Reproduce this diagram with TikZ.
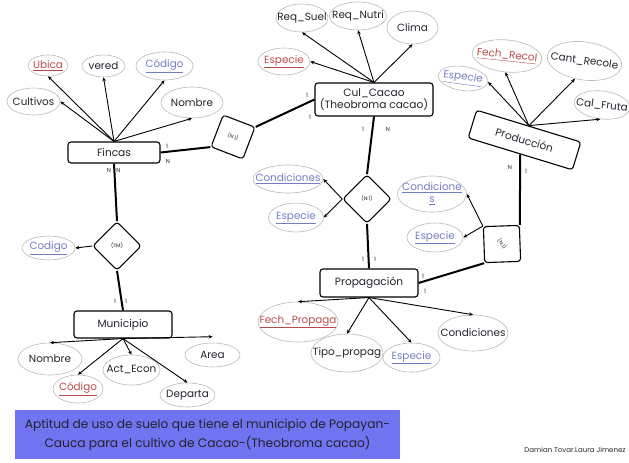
\documentclass[tikz,border=0pt]{standalone}
\usepackage{fontspec}
\setmainfont{Poppins}
\usetikzlibrary{shapes.geometric,arrows.meta}
\definecolor{keyred}{RGB}{185,75,70}
\definecolor{keyblue}{RGB}{115,125,195}
\definecolor{ellgray}{RGB}{185,185,185}
\definecolor{bannerblue}{RGB}{112,116,240}
\definecolor{inkdark}{RGB}{35,35,45}
\newcommand{\attrtxt}[1]{\makebox[0pt][c]{#1}}
\begin{document}
\begin{tikzpicture}[x=1pt,y=-1pt,
  entity/.style={draw, rounded corners=3pt, line width=1.1pt, inner sep=1pt, align=center,
    font=\fontsize{10.6}{12}\selectfont, text=inkdark},
  attr/.style={ellipse, draw=ellgray, line width=0.6pt, inner sep=0pt, align=center,
    font=\fontsize{10.4}{10}\selectfont, text=inkdark},
  keyr/.style={text=keyred},
  keyb/.style={text=keyblue},
  relbox/.style={draw, rectangle, rounded corners=3pt, line width=1.1pt, minimum size=34pt, inner sep=0pt},
  reltext/.style={font=\fontsize{5.2}{6}\selectfont, inner sep=0pt, text=inkdark},
  card/.style={font=\fontsize{5.8}{6}\selectfont, inner sep=0pt, text=inkdark},
  link/.style={line width=2pt},
  arr/.style={line width=0.9pt, -{Stealth[length=4pt,width=3.5pt]}}
]
\useasboundingbox (0,0) rectangle (629,463);

% ---------------- Fincas ----------------
\node[entity, minimum width=92pt, minimum height=21pt] (fincas) at (114,152.5) {Fincas};
\node[attr, keyr, minimum width=40pt, minimum height=21pt] (ubica) at (48,65.5) {\attrtxt{\underline{Ubica}}};
\node[attr, minimum width=43pt, minimum height=22pt] (vered) at (103.5,66) {\attrtxt{vered}};
\node[attr, keyb, minimum width=57pt, minimum height=28pt] (codF) at (164.5,66) {\attrtxt{\underline{Código}}};
\node[attr, minimum width=53pt, minimum height=27pt] (cultivos) at (33.5,101.5) {\attrtxt{Cultivos}};
\node[attr, minimum width=62pt, minimum height=31pt] (nombreF) at (192,102.5) {\attrtxt{Nombre}};
\draw[arr] (fincas.north) -- (ubica.south);
\draw[arr] (fincas.north) -- (vered.south);
\draw[arr] (fincas.north) -- (codF.south);
\draw[arr] (fincas.north) -- (cultivos.east);
\draw[arr] (fincas.north) -- (nombreF.south);

% ---------------- Relationship Fincas - Cul_Cacao ----------------
\node[relbox, rotate=-21] (d1) at (233,137) {};
\node[reltext, rotate=-21] (d1t) at (d1) {(N:1)};

% ---------------- Cul_Cacao ----------------
\node[entity, minimum width=118pt, minimum height=33pt] (cul) at (374,99.5) {Cul\_Cacao\\(Theobroma cacao)};
\node[attr, minimum width=52pt, minimum height=28pt] (reqSuel) at (302,18) {\attrtxt{Req\_Suel}};
\node[attr, minimum width=57pt, minimum height=28pt] (reqNutri) at (358,16) {\attrtxt{Req\_Nutri}};
\node[attr, minimum width=51pt, minimum height=33pt] (clima) at (412.5,27.5) {\attrtxt{Clima}};
\node[attr, keyr, minimum width=52pt, minimum height=27pt] (espC) at (284,61.5) {\attrtxt{\underline{Especie}}};
\draw[arr] (cul.north) -- (reqSuel.south);
\draw[arr] (cul.north) -- (reqNutri.south);
\draw[arr] (cul.north) -- (clima.south);
\draw[arr] (cul.north) -- (espC.east);

\draw[link] (fincas.east) -- (d1.south west);
\draw[link] (d1.north east) -- (cul.west);
\node[card] (c1) at (167,146) {1};
\node[card] (c2) at (168,161) {N};
\node[card] (c3) at (307,95) {1};
\node[card] (c4) at (310,117) {1};

% ---------------- Relationship Cul_Cacao - Propagacion ----------------
\node[relbox, rotate=45] (d2) at (367,199) {};
\node[reltext] (d2t) at (d2) {(N:1)};
\node[attr, keyb, minimum width=70pt, minimum height=28pt] (condD2) at (288,179) {\attrtxt{\underline{Condiciones}}};
\node[attr, keyb, minimum width=55pt, minimum height=29pt] (espD2) at (296,217.5) {\attrtxt{\underline{Especie}}};
\draw[arr] (d2.north west) -- (condD2.east);
\draw[arr] (d2.north west) -- (espD2.east);
\draw[link] (cul.south) -- (d2.north east);
\node[card] (c5) at (363,129) {1};
\node[card] (c6) at (388,129) {N};

% ---------------- Propagacion ----------------
\node[entity, minimum width=98pt, minimum height=28pt] (prop) at (369,283) {Propagación};
\draw[link] (d2.south west) -- (prop.north);
\node[card] (c7) at (363,259) {1};
\node[card] (c8) at (375,259) {1};
\node[attr, keyr, minimum width=80pt, minimum height=40pt] (fechP) at (298,322) {\attrtxt{\underline{Fech\_Propaga}}};
\node[attr, minimum width=72pt, minimum height=38pt] (tipo) at (347,353) {\attrtxt{Tipo\_propag}};
\node[attr, keyb, minimum width=57pt, minimum height=29pt] (espP) at (411.5,357.5) {\attrtxt{\underline{Especie}}};
\node[attr, minimum width=70pt, minimum height=36pt] (condP) at (473,333) {\attrtxt{Condiciones}};
\draw[arr] (prop.south) -- (fechP.north);
\draw[arr] (prop.south) -- (tipo.north);
\draw[arr] (prop.south) -- (espP.north);
\draw[arr] (prop.south) -- (condP.north);

% ---------------- Relationship Propagacion - Produccion ----------------
\node[relbox, rotate=2, minimum size=36pt] (d3) at (502,244) {};
\node[reltext, rotate=-55] (d3t) at (502,244) {(N:1)};
\node[attr, keyb, minimum width=69pt, minimum height=36pt] (condD3) at (432,194)
  {\attrtxt{\underline{Condicione}}\\[2pt]\attrtxt{\underline{s}}};
\node[attr, keyb, minimum width=56pt, minimum height=29pt] (espD3) at (435,237.5) {\attrtxt{\underline{Especie}}};
\draw[arr] (d3.north west) -- (condD3.east);
\draw[arr] (d3.north west) -- (espD3.east);
\draw[link] (prop.east) -- (d3.south west);
\node[card] (c9) at (423,276) {1};
\node[card] (c10) at (425,291) {1};

% ---------------- Produccion ----------------
\node[entity, rotate=-17, minimum width=109pt, minimum height=29pt] (prod) at (524.5,140) {Producción};
\draw[link] (d3.north east) -- (prod.south);
\node[card] (c11) at (510,167) {N};
\node[card] (c12) at (526,171) {1};
\node[attr, keyb, rotate=-8, minimum width=50pt, minimum height=24pt] (espPr) at (463,78.5) {\attrtxt{\underline{Especie}}};
\node[attr, keyr, rotate=-6, minimum width=70pt, minimum height=32pt] (fechR) at (507,56) {\attrtxt{\underline{Fech\_Recol}}};
\node[attr, rotate=-8, minimum width=75pt, minimum height=38pt] (cantR) at (584.5,61) {\attrtxt{Cant\_Recole}};
\node[attr, rotate=-7, minimum width=56pt, minimum height=28pt] (calF) at (602,105) {\attrtxt{Cal\_Fruta}};
\draw[arr] (prod.north) -- (espPr.east);
\draw[arr] (prod.north) -- (fechR.south);
\draw[arr] (prod.north) -- (cantR.-110);
\draw[arr] (prod.north) -- (calF.south);

% ---------------- Relationship Fincas - Municipio ----------------
\node[relbox, rotate=45] (d4) at (117,246) {};
\node[reltext] (d4t) at (d4) {(1:M)};
\node[attr, keyb, minimum width=53pt, minimum height=24pt] (codR) at (48.5,248) {\attrtxt{\underline{Codigo}}};
\draw[arr] (d4.north west) -- (codR.east);
\draw[link] (fincas.south) -- (d4.north east);
\node[card] (c13) at (109,170) {N};
\node[card] (c14) at (118.5,170) {N};

% ---------------- Municipio ----------------
\node[entity, minimum width=98pt, minimum height=27pt] (mun) at (123,324.5) {Municipio};
\draw[link] (d4.south west) -- (mun.north);
\node[card] (c15) at (115,301) {1};
\node[card] (c16) at (126,301) {1};
\node[attr, minimum width=64pt, minimum height=32pt] (nomM) at (50,359) {\attrtxt{Nombre}};
\node[attr, keyr, minimum width=50pt, minimum height=28pt] (codM) at (78,389) {\attrtxt{\underline{Código}}};
\node[attr, minimum width=57pt, minimum height=30pt] (actE) at (131.5,370) {\attrtxt{Act\_Econ}};
\node[attr, minimum width=55pt, minimum height=24pt] (depM) at (187.5,395) {\attrtxt{Departa}};
\node[attr, minimum width=55pt, minimum height=24pt] (areaM) at (212.5,355) {\attrtxt{Area}};
\draw[arr] (mun.south) -- (nomM.north);
\draw[arr] (mun.south) -- (codM.north);
\draw[arr] (mun.south) -- (actE.north);
\draw[arr] (mun.south) -- (depM.north);
\draw[arr] (mun.south) -- ([yshift=6pt]areaM.north);

% ---------------- Banner and credits ----------------
\node[fill=bannerblue, minimum width=385pt, minimum height=49pt, inner sep=0pt, align=center,
      font=\fontsize{12.2}{19}\selectfont, text=inkdark] (banner) at (207.5,434.5)
  {Aptitud de uso de suelo que tiene el municipio de Popayan-\\Cauca para el cultivo de Cacao-(Theobroma cacao)};
\node[font=\fontsize{7}{8}\selectfont, text=inkdark, inner sep=0pt] (credits) at (575,450) {Damian Tovar.Laura Jimenez};
\end{tikzpicture}
\end{document}
